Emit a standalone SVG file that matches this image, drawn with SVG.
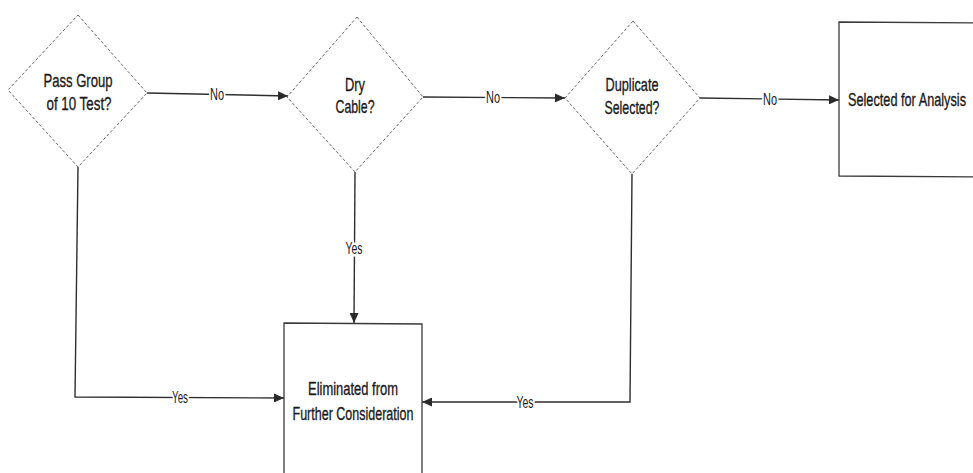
<svg xmlns="http://www.w3.org/2000/svg" width="973" height="473" viewBox="0 0 973 473">
  <style>
    .bg { fill: #ffffff; }
    .diamond { fill: none; stroke: #6a6a6a; stroke-width: 1; stroke-dasharray: 3 2; }
    .box { fill: none; stroke: #3a3a3a; stroke-width: 1.3; }
    .conn { fill: none; stroke: #2e2e2e; stroke-width: 1.4; }
    .node-text { font-family: "Liberation Sans", Arial, sans-serif; font-size: 19px; fill: #1a1a1a; stroke: #1a1a1a; stroke-width: 0.35px; text-anchor: middle; }
    .lbl { font-family: "Liberation Sans", Arial, sans-serif; font-size: 16px; fill: #1a1a1a; text-anchor: middle; stroke: #ffffff; stroke-width: 5px; paint-order: stroke; stroke-linejoin: round; }
  </style>
  <defs>
    <marker id="arrow" markerUnits="userSpaceOnUse" markerWidth="10" markerHeight="9" refX="10" refY="4.5" orient="auto">
      <path d="M0,0 L10,4.5 L0,9 z" fill="#2a2a2a"/>
    </marker>
  </defs>
  <rect class="bg" x="0" y="0" width="973" height="473"/>

  <g id="connectors">
    <path class="conn" d="M147,93 L288,96" marker-end="url(#arrow)"/>
    <text class="lbl" x="217" y="100" textLength="14" lengthAdjust="spacingAndGlyphs">No</text>

    <path class="conn" d="M423,97 L565,98" marker-end="url(#arrow)"/>
    <text class="lbl" x="493" y="103" textLength="14" lengthAdjust="spacingAndGlyphs">No</text>

    <path class="conn" d="M700,98 L839,100" marker-end="url(#arrow)"/>
    <text class="lbl" x="770" y="105" textLength="14" lengthAdjust="spacingAndGlyphs">No</text>

    <path class="conn" d="M78,167 L75,397 L284,398" marker-end="url(#arrow)"/>
    <text class="lbl" x="180" y="403" textLength="16" lengthAdjust="spacingAndGlyphs">Yes</text>

    <path class="conn" d="M355,172 L354,323" marker-end="url(#arrow)"/>
    <text class="lbl" x="354" y="254" textLength="17" lengthAdjust="spacingAndGlyphs">Yes</text>

    <path class="conn" d="M632,174 L630,402 L422,402" marker-end="url(#arrow)"/>
    <text class="lbl" x="525" y="408" textLength="17" lengthAdjust="spacingAndGlyphs">Yes</text>
  </g>

  <g id="pass-group">
    <polygon class="diamond" points="78,15 147,93 78,167 8,90"/>
    <text class="node-text" x="78" y="87" textLength="69" lengthAdjust="spacingAndGlyphs">Pass Group</text>
    <text class="node-text" x="79" y="110" textLength="65" lengthAdjust="spacingAndGlyphs">of 10 Test?</text>
  </g>

  <g id="dry-cable">
    <polygon class="diamond" points="357,17 423,97 355,172 287,97"/>
    <text class="node-text" x="355" y="91" textLength="20" lengthAdjust="spacingAndGlyphs">Dry</text>
    <text class="node-text" x="355" y="113" textLength="39" lengthAdjust="spacingAndGlyphs">Cable?</text>
  </g>

  <g id="duplicate-selected">
    <polygon class="diamond" points="633,21 700,98 632,174 565,98"/>
    <text class="node-text" x="632" y="91" textLength="53" lengthAdjust="spacingAndGlyphs">Duplicate</text>
    <text class="node-text" x="632" y="114" textLength="55" lengthAdjust="spacingAndGlyphs">Selected?</text>
  </g>

  <g id="selected-for-analysis">
    <path class="box" d="M985,23 L839,22 L839,176 L985,177"/>
    <text class="node-text" x="907" y="106" textLength="118" lengthAdjust="spacingAndGlyphs">Selected for Analysis</text>
  </g>

  <g id="eliminated">
    <path class="box" d="M284,480 L284,323 L422,324 L422,480"/>
    <text class="node-text" x="353" y="395" textLength="90" lengthAdjust="spacingAndGlyphs">Eliminated from</text>
    <text class="node-text" x="353" y="420" textLength="121" lengthAdjust="spacingAndGlyphs">Further Consideration</text>
  </g>
</svg>
